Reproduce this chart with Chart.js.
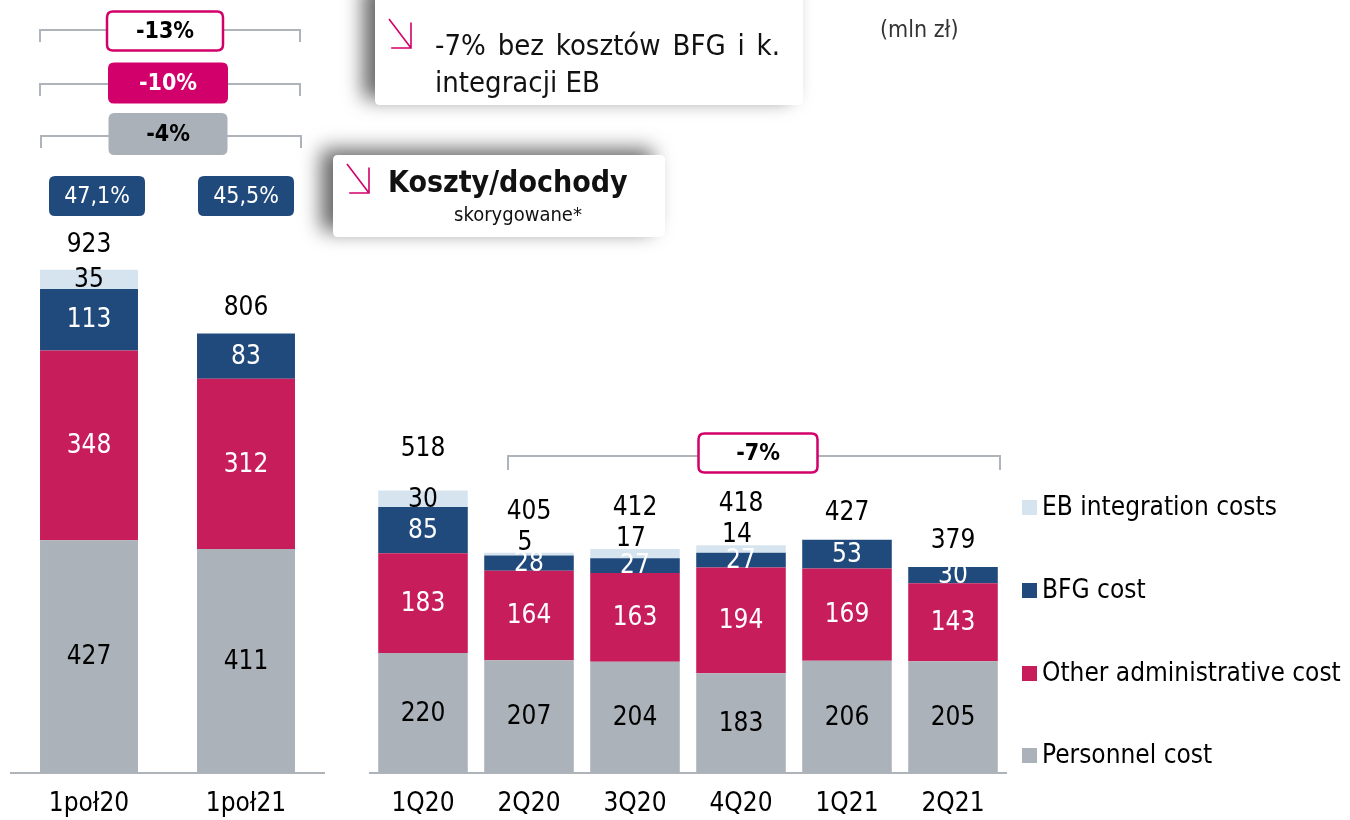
<!DOCTYPE html>
<html><head><meta charset="utf-8">
<script src="https://cdn.jsdelivr.net/npm/chart.js@4/dist/chart.umd.min.js"></script>
<style>
html,body{margin:0;padding:0;background:#fff;width:1350px;height:820px;overflow:hidden}
#wrap{position:relative;width:1350px;height:820px}
canvas{position:absolute;left:0;top:0}
</style></head><body>
<div id="wrap">
<canvas id="c1" width="340" height="820"></canvas>
<canvas id="c2" width="1350" height="820"></canvas>
</div>
<script>
// ---- data ----
const halfLabels = ['1poł20', '1poł21'];
const halfPersonnel = [427, 411];
const halfAdmin = [348, 312];
const halfBFG = [113, 83];
const halfEB = [35, 0];
const halfTotals = [923, 806];
const costIncome = ['47,1%', '45,5%'];
const halfChanges = ['-13%', '-10%', '-4%'];

const qLabels = ['1Q20', '2Q20', '3Q20', '4Q20', '1Q21', '2Q21'];
const qPersonnel = [220, 207, 204, 183, 206, 205];
const qAdmin = [183, 164, 163, 194, 169, 143];
const qBFG = [85, 28, 27, 27, 53, 30];
const qEB = [30, 5, 17, 14, 0, 0];
const qTotals = [518, 405, 412, 418, 427, 379];
const qChange = '-7%';

const seriesNames = ['Personnel cost', 'Other administrative cost', 'BFG cost', 'EB integration costs'];

// ---- styles ----
const FONT = "'DejaVu Sans Condensed','DejaVu Sans',sans-serif";
const COL = {pers:'#abb2b9', admin:'#c71d5a', bfg:'#214a7c', eb:'#d6e4ef', magenta:'#d2006a', grayBox:'#aab1b8', line:'#aeb4ba'};
const Y_MAX = 1418;

function makeDatasets(p, a, b, e) {
  return [
    {label: seriesNames[0], data: p, backgroundColor: COL.pers, labelColor: '#000'},
    {label: seriesNames[1], data: a, backgroundColor: COL.admin, labelColor: '#fff'},
    {label: seriesNames[2], data: b, backgroundColor: COL.bfg, labelColor: '#fff'},
    {label: seriesNames[3], data: e, backgroundColor: COL.eb, labelColor: '#000'}
  ];
}

const segLabels = {
  id: 'segLabels',
  afterDatasetsDraw(chart, args, opts) {
    const ctx = chart.ctx;
    ctx.save();
    ctx.font = `26px ${FONT}`;
    ctx.textAlign = 'center';
    ctx.textBaseline = 'middle';
    const n = chart.data.labels.length;
    const tops = new Array(n).fill(Infinity);
    chart.data.datasets.forEach((ds, di) => {
      const meta = chart.getDatasetMeta(di);
      meta.data.forEach((el, i) => {
        const v = ds.data[i];
        if (!v) return;
        tops[i] = Math.min(tops[i], el.y);
        const h = el.base - el.y;
        let y = (el.y + el.base) / 2;
        let x = el.x;
        if (h < 12) {
          y = el.y - 11;
          x = el.x - 4;
          ctx.fillStyle = '#000';
        } else ctx.fillStyle = ds.labelColor;
        ctx.fillText(String(v), x, y + 1);
      });
    });
    ctx.fillStyle = '#000';
    const meta0 = chart.getDatasetMeta(0);
    opts.totals.forEach((t, i) => {
      const hasEB = chart.data.datasets[3].data[i] > 0;
      const off = hasEB ? opts.offsetEB : opts.offset;
      ctx.fillText(String(t), meta0.data[i].x, tops[i] - off);
    });
    ctx.restore();
  }
};

function rr(ctx, x, y, w, h, r) {
  ctx.beginPath();
  ctx.moveTo(x + r, y);
  ctx.lineTo(x + w - r, y);
  ctx.quadraticCurveTo(x + w, y, x + w, y + r);
  ctx.lineTo(x + w, y + h - r);
  ctx.quadraticCurveTo(x + w, y + h, x + w - r, y + h);
  ctx.lineTo(x + r, y + h);
  ctx.quadraticCurveTo(x, y + h, x, y + h - r);
  ctx.lineTo(x, y + r);
  ctx.quadraticCurveTo(x, y, x + r, y);
  ctx.closePath();
}
function bracket(ctx, x1, x2, y, drop) {
  ctx.save();
  ctx.strokeStyle = COL.line; ctx.lineWidth = 2;
  ctx.beginPath();
  ctx.moveTo(x1, y + drop); ctx.lineTo(x1, y); ctx.lineTo(x2, y); ctx.lineTo(x2, y + drop);
  ctx.stroke();
  ctx.restore();
}
function badge(ctx, cx, cy, w, h, fill, stroke, text, color, bold, size) {
  ctx.save();
  rr(ctx, cx - w / 2, cy - h / 2, w, h, 6);
  ctx.fillStyle = fill; ctx.fill();
  if (stroke) { ctx.strokeStyle = stroke; ctx.lineWidth = 2.5; ctx.stroke(); }
  ctx.fillStyle = color;
  ctx.font = `${bold ? 'bold ' : ''}${size}px ${FONT}`;
  ctx.textAlign = 'center'; ctx.textBaseline = 'middle';
  ctx.fillText(text, cx, cy + 1);
  ctx.restore();
}
function shadowBox(ctx, x, y, w, h) {
  ctx.save();
  ctx.shadowColor = 'rgba(0,0,0,0.6)';
  ctx.shadowBlur = 20;
  ctx.shadowOffsetX = -12;
  ctx.shadowOffsetY = -6;
  rr(ctx, x, y, w, h, 5);
  ctx.fillStyle = '#fff'; ctx.fill();
  ctx.restore();
}
function arrow(ctx, x, y, w, h) {
  ctx.save();
  ctx.strokeStyle = COL.magenta; ctx.lineWidth = 1.6;
  ctx.beginPath();
  ctx.moveTo(x, y); ctx.lineTo(x + w, y + h);
  ctx.moveTo(x + w, y + h * 0.12); ctx.lineTo(x + w, y + h); ctx.lineTo(x + w * 0.1, y + h);
  ctx.stroke();
  ctx.restore();
}
function justified(ctx, words, x, y, width) {
  const ws = words.map(w => ctx.measureText(w).width);
  const total = ws.reduce((a, b) => a + b, 0);
  const gap = (width - total) / (words.length - 1);
  let cx = x;
  words.forEach((w, i) => { ctx.fillText(w, cx, y); cx += ws[i] + gap; });
}

const annotations = {
  id: 'annotations',
  afterDraw(chart) {
    const ctx = chart.ctx;
    // half-year change brackets
    bracket(ctx, 40, 300, 30, 12);
    badge(ctx, 165, 31, 116, 39, '#fff', COL.magenta, halfChanges[0], '#000', true, 23);
    bracket(ctx, 40, 300, 84, 12);
    badge(ctx, 168, 83, 120, 41, COL.magenta, null, halfChanges[1], '#fff', true, 23);
    bracket(ctx, 41, 301, 136, 12);
    badge(ctx, 168, 134, 119, 42, COL.grayBox, null, halfChanges[2], '#000', true, 23);
    // cost/income badges
    badge(ctx, 97, 196, 96, 40, COL.bfg, null, costIncome[0], '#fff', false, 23);
    badge(ctx, 246, 196, 96, 40, COL.bfg, null, costIncome[1], '#fff', false, 23);
    // quarterly bracket
    bracket(ctx, 508, 1000, 456, 14);
    badge(ctx, 758, 453, 119, 39, '#fff', COL.magenta, qChange, '#000', true, 23);

    // info box 1
    shadowBox(ctx, 375, -10, 428, 115);
    arrow(ctx, 389, 19, 22, 29);
    ctx.save();
    ctx.fillStyle = '#111';
    ctx.font = `29px ${FONT}`;
    ctx.textBaseline = 'middle';
    justified(ctx, ['-7%', 'bez', 'kosztów', 'BFG', 'i', 'k.'], 435, 47, 345);
    ctx.fillText('integracji EB', 435, 84);
    ctx.restore();

    // info box 2
    shadowBox(ctx, 333, 155, 332, 82);
    arrow(ctx, 347, 164, 22, 29);
    ctx.save();
    ctx.fillStyle = '#111';
    ctx.textBaseline = 'middle';
    ctx.font = `bold 30px ${FONT}`;
    ctx.fillText('Koszty/dochody', 388, 184);
    ctx.font = `20px ${FONT}`;
    ctx.textAlign = 'center';
    ctx.fillText('skorygowane*', 518, 216);
    ctx.restore();

    // unit
    ctx.save();
    ctx.fillStyle = '#333';
    ctx.font = `23px ${FONT}`;
    ctx.textBaseline = 'middle';
    ctx.fillText('(mln zł)', 880, 31);
    ctx.restore();

    // legend
    ctx.save();
    ctx.font = `26px ${FONT}`;
    ctx.textBaseline = 'middle';
    const ys = [507, 590, 673, 755];
    [3, 2, 1, 0].forEach((di, k) => {
      const ds = chart.data.datasets[di];
      ctx.fillStyle = ds.backgroundColor;
      ctx.fillRect(1022, ys[k] - 7, 15, 15);
      ctx.fillStyle = '#000';
      ctx.fillText(ds.label, 1042, ys[k] + 1);
    });
    ctx.restore();
  }
};

function makeOptions(padL, padR, cp, totals, offset, offsetEB) {
  return {
    responsive: false,
    animation: false,
    devicePixelRatio: 1,
    layout: {padding: {left: padL, right: padR, top: 0, bottom: 0}},
    datasets: {bar: {barPercentage: 1, categoryPercentage: cp, borderWidth: 0}},
    plugins: {
      legend: {display: false},
      tooltip: {enabled: false},
      segLabels: {totals, offset, offsetEB}
    },
    scales: {
      x: {
        stacked: true,
        grid: {display: false, drawTicks: false},
        border: {display: true, color: COL.line, width: 2},
        ticks: {color: '#000', font: {family: FONT, size: 26}, padding: 16, maxRotation: 0, autoSkip: false},
        afterFit(s) { s.height = 47; }
      },
      y: {stacked: true, display: false, min: 0, max: Y_MAX}
    }
  };
}

new Chart(document.getElementById('c1'), {
  type: 'bar',
  data: {labels: halfLabels, datasets: makeDatasets(halfPersonnel, halfAdmin, halfBFG, halfEB)},
  options: makeOptions(10.5, 15.5, 0.624, halfTotals, 25, 25),
  plugins: [segLabels]
});

new Chart(document.getElementById('c2'), {
  type: 'bar',
  data: {labels: qLabels, datasets: makeDatasets(qPersonnel, qAdmin, qBFG, qEB)},
  options: makeOptions(370, 344, 0.845, qTotals, 26, 41),
  plugins: [segLabels, annotations]
});
</script>
</body></html>
